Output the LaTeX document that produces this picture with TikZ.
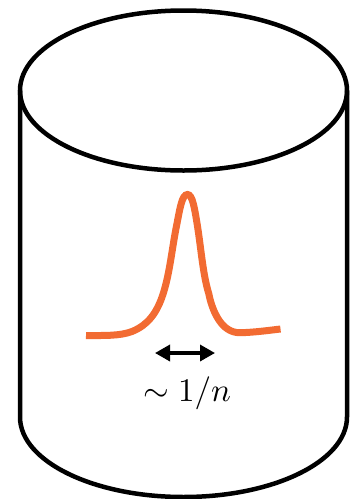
\documentclass[tikz,border=0pt]{standalone}
\usepackage{amsmath,amssymb}
\usetikzlibrary{arrows.meta}
\definecolor{cppeak}{HTML}{F26B32}
\begin{document}
\begin{tikzpicture}[x=1pt,y=-1pt,
    wall/.style={draw=black, line width=4.5pt},
    peakline/.style={draw=cppeak, line width=7pt},
    wid/.style={{Stealth[length=15pt,width=16pt,inset=0pt]}-{Stealth[length=15pt,width=16pt,inset=0pt]}, draw=black, line width=3.4pt},
  ]
  \useasboundingbox (0,0) rectangle (360,499);

  % can
  \draw[wall] (183.5,90.5) ellipse [x radius=163.5, y radius=80];
  \draw[wall] (20,90.5) -- (20,417) arc [start angle=180, end angle=0, x radius=163.5, y radius=80] -- (347,90.5);

  % bump
  \draw[peakline] (86,335.5) .. controls (105,335.5) and (120,336) .. (132,331.5)
    .. controls (148,325) and (157,313) .. (163.3,293.3)
    .. controls (170,272) and (172,248) .. (176.7,225)
    .. controls (180,208) and (182,194.5) .. (187.5,194.5)
    .. controls (192.5,194.5) and (194.5,208) .. (197.3,225)
    .. controls (201,248) and (203,275) .. (208.7,293.3)
    .. controls (212,310) and (221,333) .. (240,332.7)
    .. controls (253,332.5) and (268,330.5) .. (280.5,329);

  % width label
  \coordinate (wl) at (155,353);
  \coordinate (wr) at (215,353);
  \draw[wid] (wl) -- (wr);
  \node[scale=3.3] (wlabel) at (187,393) {$\sim 1/n$};
\end{tikzpicture}
\end{document}
